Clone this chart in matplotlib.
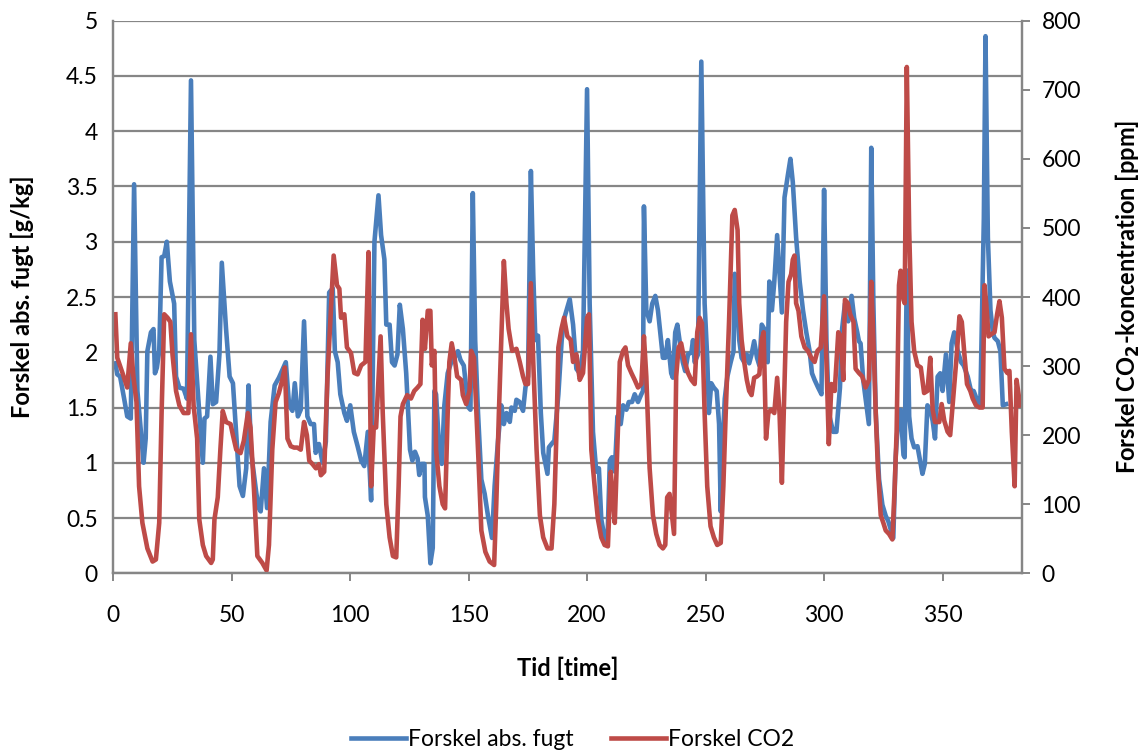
import matplotlib
matplotlib.use("Agg")
import matplotlib.pyplot as plt

plt.rcParams['font.family'] = ['Lato', 'DejaVu Sans']

# Forskel abs. fugt [g/kg] - vertices
fugt_t = [1, 1.8, 3, 4.7, 6, 7.5, 8.9, 10.3, 12.9, 13.8, 14.5, 16, 17.1, 17.7, 18.5, 19.5,
          20.5, 21.6, 22.7, 24, 25.8, 26.6, 28, 29.8, 31.2, 32.9, 34.3, 36.4, 37.9, 38.6,
          39.7, 41.1, 42.1, 43.5, 44.9, 45.9, 47.7, 49.2, 50.6, 51.7, 53.4, 54.8, 56.2, 57.2,
          58.3, 60.5, 61.5, 62.3, 63.7, 65, 66.5, 68.2, 70, 72.9, 74.3, 75.7, 76.7, 78, 79.2,
          80.6, 82, 83.4, 84.8, 85.5, 86.9, 88.4, 89.8, 91.2, 92.7, 93.6, 94.8, 95.9, 97.6,
          98.7, 100.1, 101.6, 103.2, 104.7, 106, 107.5, 108.9, 110.3, 112, 113.1, 114.5, 115.3,
          116.7, 117.7, 118.8, 120, 121, 122.3, 123.7, 125.3, 126.3, 127.4, 128.5, 129.2, 130.2,
          131.4, 131.6, 132.8, 133.9, 134.9, 135.6, 136.3, 137.7, 138.7, 139.8, 141.2, 142.7,
          144.1, 145.5, 146.6, 148, 149, 150, 150.8, 151.8, 152.8, 154, 155.4, 156.8, 158.2,
          159.9, 161, 162.4, 163.8, 164.9, 166, 167.4, 168.1, 169.5, 170.2, 171.6, 173, 174,
          175.1, 176.3, 177.3, 178.2, 179.3, 180.5, 181.5, 183.3, 183.9, 185, 186.2, 187.9,
          189.3, 190.4, 192.7, 194.1, 195.5, 196.9, 198.3, 200, 201.1, 202.5, 203.9, 205, 206,
          207.4, 208.6, 209.6, 210.5, 211.7, 212.8, 214.2, 215.2, 216.6, 217.6, 219, 220.1,
          221.5, 222.9, 223.6, 224, 225, 226.4, 227.5, 228.8, 229.9, 231, 232, 233, 234.1,
          235.5, 236.2, 237.2, 238.1, 239, 240.4, 241.4, 242.6, 244, 244.7, 245.4, 246.8,
          248.2, 249.6, 250.7, 251.4, 252.4, 253.5, 254.7, 255.7, 256.4, 257.1, 258.1, 259.2,
          260.6, 261.8, 262.3, 263.2, 264.2, 265.2, 266.3, 267.4, 268.4, 269.4, 270.5, 271.7,
          272.7, 273.7, 274.8, 276.2, 276.9, 278, 279, 280.2, 281.2, 282.2, 283.3, 284.7,
          285.8, 286.8, 288.2, 289.7, 291.1, 292.5, 293.9, 294.9, 296, 297.5, 298.9, 300, 301,
          302, 303.8, 305.2, 306.7, 307.6, 308.8, 310.2, 311.6, 312.7, 314, 314.7, 315.4,
          316.5, 317.9, 318.9, 319.9, 320.8, 321.8, 323.2, 324.6, 326, 327.1, 327.8, 329.2,
          330.2, 331.2, 332.3, 333.5, 334, 334.9, 335.9, 336.9, 338, 339.4, 340.5, 341.5,
          342.5, 343.6, 344.8, 345.8, 346.8, 347.9, 349, 350, 351.4, 352.8, 353.8, 354.9,
          356.4, 357.8, 358.9, 360.6, 362, 363.1, 364.5, 365.9, 367.4, 368.1, 369.1, 370.2,
          371.2, 371.9, 373.3, 374.4, 375.4, 376.8]
fugt = [1.90, 1.80, 1.78, 1.58, 1.42, 1.40, 3.52, 1.65, 1.00, 1.22, 2.01, 2.18, 2.21, 1.81, 1.86, 2.01,
        2.86, 2.87, 3.00, 2.64, 2.44, 1.78, 1.68, 1.67, 1.58, 4.46, 2.11, 1.45, 1.00, 1.40,
        1.42, 1.96, 1.53, 1.55, 1.98, 2.81, 2.21, 1.78, 1.72, 1.35, 0.79, 0.70, 0.95, 1.70,
        1.09, 0.72, 0.59, 0.56, 0.95, 0.59, 1.37, 1.70, 1.77, 1.91, 1.52, 1.47, 1.72, 1.42, 1.48,
        2.28, 1.42, 1.35, 1.35, 1.09, 1.17, 1.00, 1.19, 2.54, 2.58, 2.01, 1.91, 1.62, 1.45,
        1.38, 1.52, 1.28, 1.15, 1.02, 0.97, 1.28, 0.66, 3.00, 3.42, 3.06, 2.84, 2.25,
        2.25, 1.91, 1.88, 1.98, 2.43, 2.21, 1.81, 1.12, 1.02, 1.10, 1.04, 0.89, 0.99,
        0.99, 0.69, 0.52, 0.09, 0.23, 1.65, 1.62, 1.09, 0.99, 1.52, 1.81, 1.91,
        1.95, 2.01, 1.93, 1.88, 1.68, 1.50, 1.48, 3.44, 2.11, 1.45, 0.85, 0.72, 0.52,
        0.32, 0.79, 1.19, 1.52, 1.35, 1.45, 1.37, 1.50, 1.47, 1.57, 1.55, 1.47, 1.68,
        1.78, 3.64, 2.71, 2.11, 2.15, 1.45, 1.09, 0.90, 1.14, 1.17, 1.20, 1.62,
        2.11, 2.31, 2.48, 2.25, 1.85, 1.81, 2.01, 4.38, 2.44, 1.28, 0.92, 0.95, 0.49,
        0.32, 0.29, 1.02, 1.05, 0.92, 1.42, 1.35, 1.52, 1.48, 1.55, 1.55, 1.62,
        1.55, 1.62, 1.65, 3.32, 2.38, 2.28, 2.44, 2.51, 2.38, 2.15, 1.95, 1.95, 2.11,
        1.81, 1.77, 2.18, 2.25, 2.11, 1.91, 1.83, 1.98, 2.00, 2.11, 1.91, 1.98,
        4.63, 2.44, 1.95, 1.45, 1.72, 1.68, 1.65, 1.35, 0.56, 1.12, 1.58, 1.78,
        1.91, 2.01, 2.71, 2.51, 2.11, 1.95, 1.91, 1.98, 1.90, 1.98, 2.10, 1.95,
        1.88, 2.25, 2.21, 1.91, 2.64, 2.38, 2.64, 3.06, 2.71, 2.36, 3.40, 3.60,
        3.75, 3.54, 3.04, 2.64, 2.38, 2.18, 2.01, 1.81, 1.75, 1.68, 1.62, 3.47, 2.11,
        1.45, 1.28, 1.28, 1.68, 2.21, 2.44, 2.28, 2.51, 2.31, 2.18, 2.10, 2.08,
        1.75, 1.52, 1.35, 3.85, 2.44, 1.45, 0.85, 0.62, 0.52, 0.47, 0.42, 0.32,
        1.05, 1.38, 1.48, 1.07, 1.05, 2.74, 1.42, 1.22, 1.14, 1.15, 1.02, 0.90,
        0.99, 1.52, 1.48, 1.38, 1.22, 1.78, 1.81, 1.65, 1.98, 1.55, 2.08, 2.18,
        2.01, 1.91, 1.88, 1.78, 1.65, 1.65, 1.57, 1.52, 3.21, 4.86, 3.04, 2.38,
        2.18, 2.13, 2.10, 2.01, 1.52, 1.53]

# Forskel CO2 [ppm]
co2_t = [1, 1.8, 4, 6, 7.5, 8.6, 9.9, 11, 12.4, 14.5, 16.7, 18.1, 19.5, 20.5, 21.6, 23, 24.2,
         25.1, 26.6, 28, 29.8, 31.8, 32.9, 34, 35.5, 36.4, 37.9, 39.3, 41.4, 42.1, 42.8, 44.2,
         45.3, 46.3, 47.7, 49.6, 50.6, 52, 53.8, 55.2, 56.9, 58, 59.5, 60.9, 63, 64.8, 65.8,
         67.2, 68.6, 70, 71.4, 72.5, 73.6, 75, 76.4, 77.8, 79.2, 80.6, 81.8, 82.8, 84.2, 85.6,
         86.9, 87.7, 89.1, 90.5, 91.9, 93.1, 94.5, 95.5, 96.2, 97.6, 98.7, 100.4, 101.8, 103.2,
         104.7, 106.5, 107.8, 108.9, 110, 111, 112.9, 113.8, 115.3, 116.7, 118.1, 119.5, 120.5,
         121.3, 122.3, 124.1, 125.7, 127.1, 128.5, 129.7, 130.6, 131.6, 132.8, 133.9, 134.5,
         135.6, 136.3, 137.7, 139.1, 140.1, 141.2, 141.9, 142.9, 144.1, 145.2, 146.9, 147.6,
         149, 150.4, 151.1, 152.3, 153.2, 154.2, 155.4, 157.1, 158.9, 160.8, 161.7, 162.8,
         163.8, 164.9, 166, 166.9, 168.4, 170.2, 171.6, 173, 174, 175.1, 176.3, 177.3, 178.7,
         180.1, 181.5, 183.3, 185, 186.2, 187.1, 187.9, 189.2, 190.3, 191.7, 193.1, 194.1,
         195.5, 196.9, 198.3, 200, 200.8, 201.8, 203.2, 204.6, 206, 207.4, 208.8, 210, 210.5,
         211.7, 213.1, 213.8, 215.2, 216.2, 217.3, 218.7, 220.1, 221.5, 222.9, 224, 225, 226.4,
         227.8, 229.2, 230.6, 232, 233, 233.8, 234.8, 235.8, 236.7, 237.6, 238.6, 239.7, 241.2,
         242.6, 244, 245.4, 246.5, 247.5, 248.5, 249.6, 250.7, 252.1, 253.5, 254.9, 256.4,
         257.5, 258.5, 259.9, 261.3, 262.3, 263.5, 264.2, 265.2, 266.3, 267.4, 268.4, 269.4,
         270.5, 271.7, 272.7, 273.7, 274.5, 275.5, 276.5, 277.6, 279, 280.2, 281.2, 282.2, 283,
         284, 285, 286.1, 286.8, 287.5, 288.2, 289.2, 290.4, 291.8, 293.2, 294.6, 296, 297.2,
         298.6, 300, 301, 302, 303.1, 304.5, 306, 307.1, 308.1, 308.8, 310, 311, 312.4, 313.3,
         314.7, 316.1, 317.5, 318.9, 319.9, 320.8, 321.8, 322.7, 323.9, 325, 326, 327.4, 328.8,
         329.8, 330.6, 331.6, 332.3, 333.5, 334, 334.9, 335.9, 336.9, 338, 339.4, 340.8, 342.2,
         343.6, 344.8, 345.8, 346.8, 348.6, 349.6, 350.7, 352.1, 353.2, 354.7, 356.1, 357.1,
         358.1, 359.2, 360.3, 361.7, 362.7, 364.1, 365.5, 366.9, 367.7, 368.4, 369.4, 370.5,
         371.9, 373, 374, 375, 376.1, 377.3, 378.2, 379.2, 380.4, 381.2, 382.1, 382.8]
co2 = [375, 312, 290, 269, 333, 285, 248, 126, 73, 36, 17, 20, 73, 232, 375, 370, 364,
       317, 264, 243, 232, 232, 346, 243, 195, 78, 41, 25, 15, 20, 78, 110,
       179, 235, 219, 216, 200, 179, 174, 192, 232, 211, 120, 25, 15, 4, 41,
       179, 248, 261, 280, 298, 195, 184, 182, 182, 179, 219, 200, 163, 158, 152,
       158, 142, 147, 285, 380, 460, 417, 412, 370, 375, 327, 319, 290, 288,
       301, 306, 465, 126, 211, 211, 343, 232, 100, 52, 25, 23, 126,
       227, 245, 258, 253, 264, 269, 274, 367, 325, 380, 380, 301,
       322, 179, 126, 100, 94, 232, 306, 333, 312, 285, 280, 258,
       245, 264, 322, 312, 243, 163, 62, 31, 17, 12, 100, 232,
       338, 452, 391, 354, 322, 325, 306, 285, 274, 274, 420, 306, 179,
       84, 52, 36, 36, 100, 205, 327, 354, 370, 343, 338, 306,
       317, 280, 290, 370, 375, 179, 126, 78, 52, 41, 39, 147, 126,
       73, 216, 306, 322, 327, 301, 290, 280, 269, 274, 343, 285, 152,
       84, 57, 41, 36, 41, 110, 115, 84, 57, 285, 327, 333, 306,
       290, 280, 274, 349, 370, 362, 232, 126, 68, 52, 41, 44,
       126, 232, 364, 518, 526, 497, 391, 338, 306, 280, 264, 258,
       283, 285, 288, 338, 349, 195, 232, 237, 232, 283, 232, 131, 232,
       364, 422, 433, 454, 460, 391, 380, 343, 327, 322, 312, 306, 322,
       327, 401, 306, 187, 274, 264, 349, 343, 280, 396, 391, 375, 364, 296,
       290, 285, 269, 280, 422, 338, 232, 152, 84, 73, 62, 57, 49,
       126, 205, 417, 438, 396, 391, 733, 497, 364, 322, 301, 298, 261,
       264, 312, 237, 219, 219, 245, 221, 205, 200, 264, 322, 372,
       364, 317, 274, 264, 253, 243, 240, 240, 417, 391, 343, 346,
       349, 375, 394, 370, 296, 290, 293, 205, 126, 280, 258, 243]

x_ticks = [0, 50, 100, 150, 200, 250, 300, 350]
left_ticks = [0, 0.5, 1, 1.5, 2, 2.5, 3, 3.5, 4, 4.5, 5]
left_labels = ['0', '0.5', '1', '1.5', '2', '2.5', '3', '3.5', '4', '4.5', '5']
right_ticks = [0, 100, 200, 300, 400, 500, 600, 700, 800]

blue = '#4a7ebb'
red = '#be4b48'
grey = '#868686'

fig = plt.figure(figsize=(11.45, 7.55), dpi=100)
ax1 = fig.add_axes([113 / 1145, 1 - 573.3 / 755, 909 / 1145, 552.6 / 755])
ax2 = ax1.twinx()

ax1.plot(fugt_t, fugt, color=blue, lw=3.3, solid_joinstyle='round', label='Forskel abs. fugt')
ax2.plot(co2_t, co2, color=red, lw=3.3, solid_joinstyle='round', label='Forskel CO2')

ax1.set_xlim(0, 383.5)
ax1.set_ylim(0, 5)
ax2.set_ylim(0, 800)
ax1.set_xticks(x_ticks)
ax1.set_yticks(left_ticks)
ax1.set_yticklabels(left_labels)
ax2.set_yticks(right_ticks)

# gridlines on the left axis only
ax1.grid(axis='y', color=grey, lw=1.6)
ax1.set_axisbelow(True)

for ax in (ax1, ax2):
    for s in ax.spines.values():
        s.set_color(grey)
        s.set_linewidth(1.6)
ax1.spines['top'].set_visible(False)
ax2.spines['top'].set_visible(False)

ax1.tick_params(axis='x', direction='out', length=6, width=1.4, color=grey,
                labelsize=16.5, pad=17)
ax1.tick_params(axis='y', length=0, labelsize=16.5, pad=11)
ax2.tick_params(axis='y', direction='out', length=6, width=1.4, color=grey,
                labelsize=16.5, pad=8)

ax1.set_xlabel('Tid [time]', fontsize=17, fontweight='bold')
ax1.set_ylabel('Forskel abs. fugt [g/kg]', fontsize=17, fontweight='bold')
ax2.set_ylabel('Forskel CO$_\\mathbf{2}$-koncentration [ppm]', fontsize=17,
               fontweight='bold')
ax1.xaxis.label.set_va('center')
ax1.yaxis.label.set_va('center')
ax2.yaxis.label.set_va('center')
ax1.xaxis.set_label_coords(0.5, (573.3 - 668) / 552.6)
ax1.yaxis.set_label_coords((22 - 113) / 909, 0.5)
ax2.yaxis.set_label_coords((1128 - 113) / 909, 0.5)

h1, l1 = ax1.get_legend_handles_labels()
h2, l2 = ax2.get_legend_handles_labels()
fig.legend(h1 + h2, l1 + l2, loc='center', bbox_to_anchor=(0.5, 1 - 740 / 755),
           ncol=2, frameon=False, fontsize=16.5, handlelength=2.4, handletextpad=0.1,
           columnspacing=1.6)

fig.savefig('out.png', dpi=100)
